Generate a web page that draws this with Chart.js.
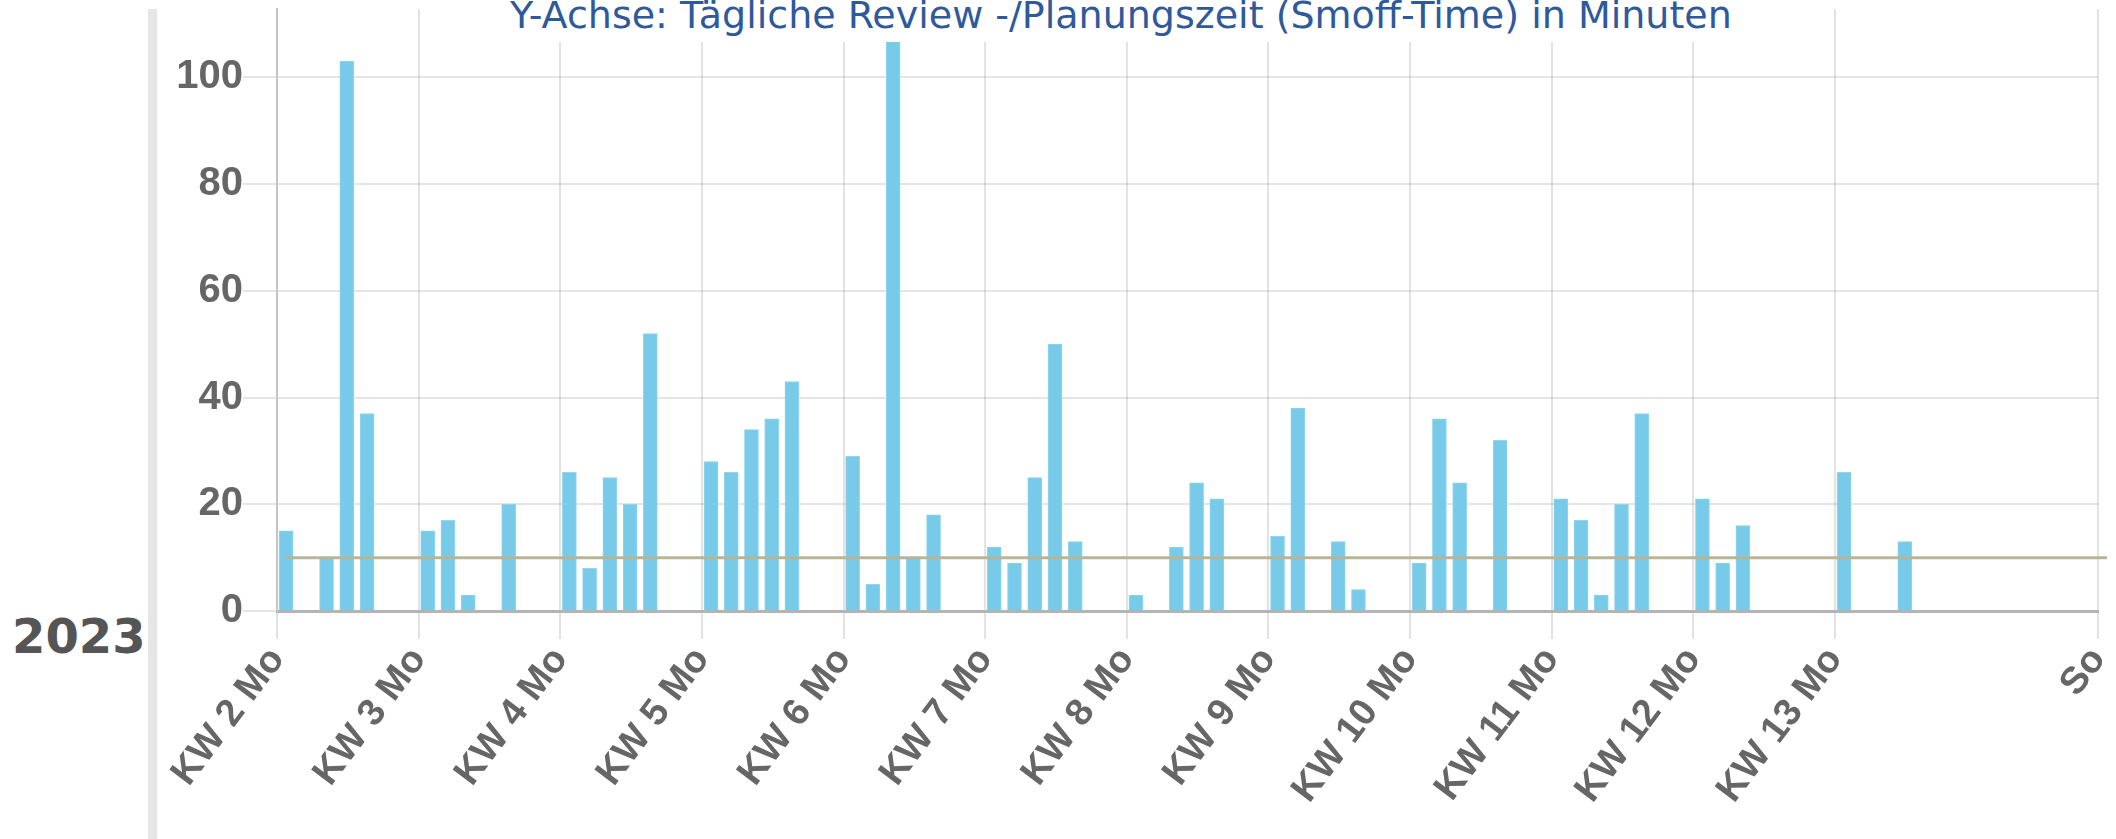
<!DOCTYPE html>
<html>
<head>
<meta charset="utf-8">
<script src="https://cdn.jsdelivr.net/npm/chart.js@4.4.0/dist/chart.umd.min.js"></script>
<style>
    body { margin: 0; background: #fff; }
    #page { position: relative; width: 2116px; height: 839px; overflow: hidden; }
    #sidebar { position: absolute; left: 148px; top: 9px; width: 9px; height: 830px; background: #e6e6e6; }
    #year { position: absolute; left: 12px; top: 612px; font: bold 48px/48px "DejaVu Sans", sans-serif; color: #555; }
    #chart { position: absolute; left: 0; top: 0; }
    #title { position: absolute; left: 490px; top: -4px; height: 46px; padding: 0 20px; background: #fff;
             font: 38px/38px "DejaVu Sans", sans-serif; color: #2e5a9c; white-space: nowrap; }
</style>
</head>
<body>
<div id="page">
    <div id="sidebar"></div>
    <div id="year">2023</div>
    <canvas id="chart" width="2116" height="839"></canvas>
    <div id="title">Y-Achse: Tägliche Review -/Planungszeit (Smoff-Time) in Minuten</div>
</div>
<script>
// days counted from KW 2 Monday
const barDays = [0, 2, 3, 4, 7, 8, 9, 11, 14, 15, 16, 17, 18, 21, 22, 23, 24, 25,
    28, 29, 30, 31, 32, 35, 36, 37, 38, 39, 42, 44, 45, 46, 49, 50, 52, 53,
    56, 57, 58, 60, 63, 64, 65, 66, 67, 70, 71, 72, 77, 80];
const minutes = [15, 10, 103, 37, 15, 17, 3, 20, 26, 8, 25, 20, 52, 28, 26, 34, 36, 43,
    29, 5, 110, 10, 18, 12, 9, 25, 50, 13, 3, 12, 24, 21, 14, 38, 13, 4,
    9, 36, 24, 32, 21, 17, 3, 20, 37, 21, 9, 16, 26, 13];
const targetMinutes = 10;

const labelDays = [0, 7, 14, 21, 28, 35, 42, 49, 56, 63, 70, 77, 90];
const weekLabels = ['KW 2 Mo', 'KW 3 Mo', 'KW 4 Mo', 'KW 5 Mo', 'KW 6 Mo', 'KW 7 Mo', 'KW 8 Mo',
    'KW 9 Mo', 'KW 10 Mo', 'KW 11 Mo', 'KW 12 Mo', 'KW 13 Mo', 'So'];
const yTicks = [0, 20, 40, 60, 80, 100];

const dayOffset = 0.45; // reviews happen during the day, not at midnight
const firstDay = labelDays[0];
const lastDay = labelDays[labelDays.length - 1];

const tickFont = { family: '"Liberation Sans", Arial, sans-serif', size: 40, weight: 'bold' };

new Chart(document.getElementById('chart').getContext('2d'), {
    data: {
        datasets: [{
            type: 'line',
            label: 'Ziel',
            data: [{ x: firstDay + dayOffset, y: targetMinutes }, { x: lastDay + dayOffset, y: targetMinutes }],
            borderColor: '#b8b498',
            borderWidth: 3,
            pointRadius: 0,
            clip: false,
            order: 0
        }, {
            type: 'bar',
            label: 'Minuten',
            data: barDays.map((d, i) => ({ x: d + dayOffset, y: minutes[i] })),
            backgroundColor: '#77cbe8',
            borderColor: '#8ed6ee',
            borderWidth: { top: 1, left: 1, right: 1, bottom: 0 },
            barThickness: 14,
            order: 1
        }]
    },
    options: {
        responsive: false,
        devicePixelRatio: 1,
        animation: false,
        layout: { padding: { top: 9, right: 18, left: 0, bottom: 0 } },
        plugins: { legend: { display: false }, tooltip: { enabled: false } },
        scales: {
            x: {
                type: 'linear',
                offset: false,
                min: firstDay,
                max: lastDay,
                afterBuildTicks: scale => { scale.ticks = labelDays.map(v => ({ value: v })); },
                afterFit: scale => {
                    scale.height = 228;
                    scale.paddingLeft = 0;
                    scale.paddingRight = 0;
                },
                ticks: {
                    autoSkip: false,
                    minRotation: 53,
                    maxRotation: 53,
                    padding: 0,
                    color: '#666',
                    font: { ...tickFont, size: 38 },
                    callback: value => weekLabels[labelDays.indexOf(value)]
                },
                grid: { offset: false, color: 'rgba(0,0,0,0.11)', lineWidth: 2, tickLength: 28 },
                border: { color: '#b4b4b4', width: 3 }
            },
            y: {
                min: 0,
                max: 112.8,
                afterBuildTicks: scale => { scale.ticks = yTicks.map(v => ({ value: v })); },
                afterFit: scale => {
                    scale.width = 277;
                    scale.paddingTop = 0;
                    scale.paddingBottom = 0;
                },
                ticks: { padding: 0, color: '#666', font: tickFont },
                grid: { color: 'rgba(0,0,0,0.1)', lineWidth: 2, tickLength: 34 },
                border: { color: '#c4c4c4', width: 2 }
            }
        }
    }
});
</script>
</body>
</html>
